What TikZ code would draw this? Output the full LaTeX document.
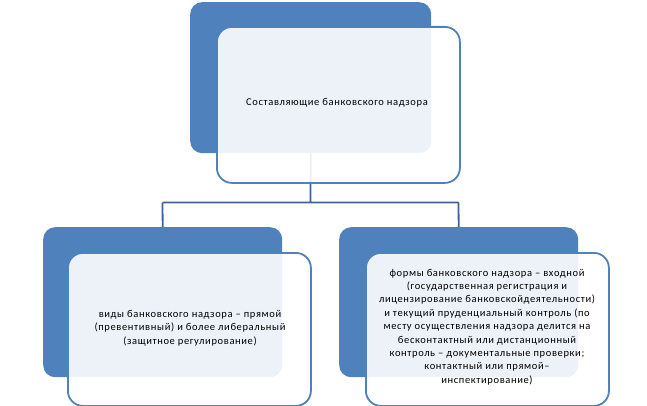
\documentclass[tikz,border=0pt]{standalone}
\usepackage{fontspec}
\setmainfont{Carlito}[LetterSpace=6]
\definecolor{backblue}{HTML}{4F81BD}
\definecolor{linkblue}{HTML}{3C6496}
\begin{document}
\begin{tikzpicture}[x=1pt,y=-1pt,
  backbox/.style={fill=backblue,rounded corners=12pt},
  frontbox/.style={draw=backblue,line width=1.8pt,fill=white,fill opacity=0.9,rounded corners=15pt},
  txt/.style={align=center,font=\fontsize{10.5}{13.4}\selectfont,text=black},
  link/.style={draw=linkblue,line width=1.8pt}]
\useasboundingbox (0,0) rectangle (647,406);
\coordinate (hub) at (310.5,202.5);
\coordinate (hl) at (162.5,202.5);
\coordinate (hr) at (458.5,202.5);
\node[backbox,minimum width=241pt,minimum height=151pt,anchor=north west] (tb) at (190,2) {};
\node[backbox,minimum width=239pt,minimum height=150pt,anchor=north west] (lb) at (43,227) {};
\node[backbox,minimum width=239pt,minimum height=150pt,anchor=north west] (rb) at (339,227) {};
\draw[link] (tb.south) -- (hub) (hl) -- (hr) (hl) -- (lb.north) (hr) -- (rb.north);
\node[frontbox,minimum width=243pt,minimum height=156pt,anchor=north west] (tf) at (216,26) {};
\node[frontbox,minimum width=243pt,minimum height=153pt,anchor=north west] (lf) at (67,252) {};
\node[frontbox,minimum width=243pt,minimum height=153pt,anchor=north west] (rf) at (365,252) {};
\node[txt] (tt) at (337,103) {Составляющие банковского надзора};
\node[txt] (lt) at (190,328) {виды банковского надзора – прямой\\(превентивный) и более либеральный\\(защитное регулирование)};
\node[txt] (rt) at (487,327) {формы банковского надзора – входной\\(государственная регистрация и\\лицензирование банковскойдеятельности)\\и текущий пруденциальный контроль (по\\месту осуществления надзора делится на\\бесконтактный или дистанционный\\контроль – документальные проверки;\\контактный или прямой–\\инспектирование)};
\end{tikzpicture}
\end{document}
